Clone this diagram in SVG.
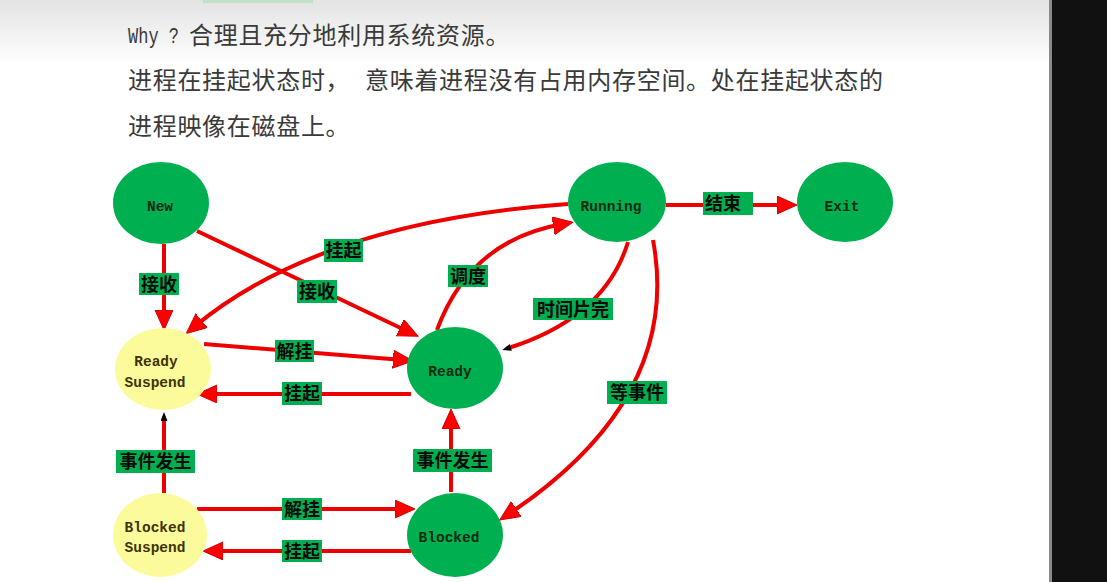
<svg xmlns="http://www.w3.org/2000/svg" width="1107" height="582" viewBox="0 0 1107 582">
  <defs>
    <linearGradient id="topgrad" x1="0" y1="0" x2="0" y2="1">
      <stop offset="0" stop-color="#e3e3e3"/>
      <stop offset="1" stop-color="#ffffff"/>
    </linearGradient>
    <marker id="arrow" markerUnits="userSpaceOnUse" markerWidth="22" markerHeight="20" refX="10" refY="9" orient="auto">
      <path d="M0,0 L20,9 L0,18 Z" fill="#ff0000" stroke="#d00000" stroke-width="1"/>
    </marker>
    <marker id="small" markerUnits="userSpaceOnUse" markerWidth="10" markerHeight="8" refX="4" refY="3.5" orient="auto">
      <path d="M0,0 L9,3.5 L0,7 Z" fill="#000000"/>
    </marker>
    <style>
      .slide { font-family: "Noto Sans CJK SC", "Noto Sans", sans-serif; font-size: 24px; fill: #3a3a3a; letter-spacing: 0.7px; }
      .mono { font-family: "Liberation Mono", "DejaVu Sans Mono", monospace; font-size: 22px; letter-spacing: 0; }
      .green { fill: #00b050; }
      .yellow { fill: #fbfb9c; }
      .nlabel { font-family: "Liberation Mono", "DejaVu Sans Mono", monospace; font-size: 14.5px; font-weight: bold; fill: #0d2a12; text-anchor: middle; }
      .ylabel { font-family: "Liberation Mono", "DejaVu Sans Mono", monospace; font-size: 14.5px; font-weight: bold; fill: #3d3400; text-anchor: middle; }
      .edge { fill: none; stroke: #ee0000; stroke-width: 4; }
      .ebox { fill: #00b050; }
      .etext { font-family: "Noto Sans CJK SC", sans-serif; font-size: 18px; font-weight: bold; fill: #0a0a0a; text-anchor: middle; }
    </style>
  </defs>

  <!-- background -->
  <rect x="0" y="0" width="1107" height="582" fill="#ffffff"/>
  <rect x="0" y="0" width="1052" height="64" fill="url(#topgrad)"/>
  <rect x="203" y="0" width="110" height="3" fill="#bfe2c8"/>
  <rect x="1049" y="0" width="3" height="582" fill="#8a8a8a"/>
  <rect x="1052" y="0" width="55" height="582" fill="#111111"/>

  <!-- slide text -->
  <g id="slide-text" class="slide">
    <text class="mono" x="128" y="43" textLength="51" lengthAdjust="spacingAndGlyphs">Why ?</text>
    <text x="189" y="44">合理且充分地利用系统资源。</text>
    <text x="128" y="89">进程在挂起状态时，</text>
    <text x="365" y="89">意味着进程没有占用内存空间。处在挂起状态的</text>
    <text x="128" y="135">进程映像在磁盘上。</text>
  </g>

  <!-- connectors -->
  <g id="connectors">
    <path class="edge" d="M164,244 L164,320" marker-end="url(#arrow)"/>
    <path class="edge" d="M197,231 L409,332" marker-end="url(#arrow)"/>
    <path class="edge" d="M568,204 Q320,222 194,327" marker-end="url(#arrow)"/>
    <path class="edge" d="M437,330 Q470,240 563,224" marker-end="url(#arrow)"/>
    <path class="edge" d="M628,242 Q605,318 507,348.5" marker-end="url(#small)"/>
    <path class="edge" d="M653,240 C668,320 650,420 508,514.5" marker-end="url(#arrow)"/>
    <path class="edge" d="M666,205 L787,205" marker-end="url(#arrow)"/>
    <path class="edge" d="M204,344 L403,360" marker-end="url(#arrow)"/>
    <path class="edge" d="M411,394 L207,394" marker-end="url(#arrow)"/>
    <path class="edge" d="M164,493 L164,417" marker-end="url(#small)"/>
    <path class="edge" d="M451,492 L451,419" marker-end="url(#arrow)"/>
    <path class="edge" d="M197,509 L405,509" marker-end="url(#arrow)"/>
    <path class="edge" d="M411,551 L213,551" marker-end="url(#arrow)"/>

    <!-- edge labels -->
    <rect class="ebox" x="139" y="273" width="40" height="22"/>
    <text class="etext" x="159" y="290.5">接收</text>
    <rect class="ebox" x="297" y="280" width="40" height="23"/>
    <text class="etext" x="317" y="298">接收</text>
    <rect class="ebox" x="324" y="239" width="39" height="23"/>
    <text class="etext" x="343.5" y="257">挂起</text>
    <rect class="ebox" x="448" y="265" width="40" height="22"/>
    <text class="etext" x="468" y="282.5">调度</text>
    <rect class="ebox" x="533" y="298" width="80" height="22"/>
    <text class="etext" x="573" y="315.5">时间片完</text>
    <rect class="ebox" x="607" y="381" width="60" height="23"/>
    <text class="etext" x="637" y="399">等事件</text>
    <rect class="ebox" x="703" y="192" width="50" height="23"/>
    <text class="etext" x="723" y="210">结束</text>
    <rect class="ebox" x="275" y="340" width="39" height="22"/>
    <text class="etext" x="294.5" y="357.5">解挂</text>
    <rect class="ebox" x="282" y="382" width="40" height="23"/>
    <text class="etext" x="302" y="400">挂起</text>
    <rect class="ebox" x="116" y="450" width="79" height="23"/>
    <text class="etext" x="155.5" y="468">事件发生</text>
    <rect class="ebox" x="413" y="449" width="79" height="23"/>
    <text class="etext" x="452.5" y="467">事件发生</text>
    <rect class="ebox" x="282" y="498" width="40" height="22"/>
    <text class="etext" x="302" y="515.5">解挂</text>
    <rect class="ebox" x="282" y="540" width="40" height="22"/>
    <text class="etext" x="302" y="557.5">挂起</text>
  </g>

  <!-- nodes -->
  <g id="node-new">
    <ellipse class="green" cx="161" cy="203" rx="48" ry="41"/>
    <text class="nlabel" x="160" y="211">New</text>
  </g>
  <g id="node-running">
    <ellipse class="green" cx="617" cy="202" rx="49" ry="40"/>
    <text class="nlabel" x="611" y="211">Running</text>
  </g>
  <g id="node-exit">
    <ellipse class="green" cx="845" cy="202" rx="48" ry="40"/>
    <text class="nlabel" x="842" y="211">Exit</text>
  </g>
  <g id="node-ready-suspend">
    <ellipse class="yellow" cx="163" cy="369" rx="48" ry="41"/>
    <text class="ylabel" x="156" y="366">Ready</text>
    <text class="ylabel" x="155" y="387">Suspend</text>
  </g>
  <g id="node-ready">
    <ellipse class="green" cx="455" cy="368" rx="48" ry="41"/>
    <text class="nlabel" x="450" y="376">Ready</text>
  </g>
  <g id="node-blocked-suspend">
    <ellipse class="yellow" cx="160" cy="535" rx="47" ry="42"/>
    <text class="ylabel" x="155" y="532">Blocked</text>
    <text class="ylabel" x="155" y="552">Suspend</text>
  </g>
  <g id="node-blocked">
    <ellipse class="green" cx="455" cy="535" rx="48" ry="42"/>
    <text class="nlabel" x="449" y="542">Blocked</text>
  </g>
</svg>
